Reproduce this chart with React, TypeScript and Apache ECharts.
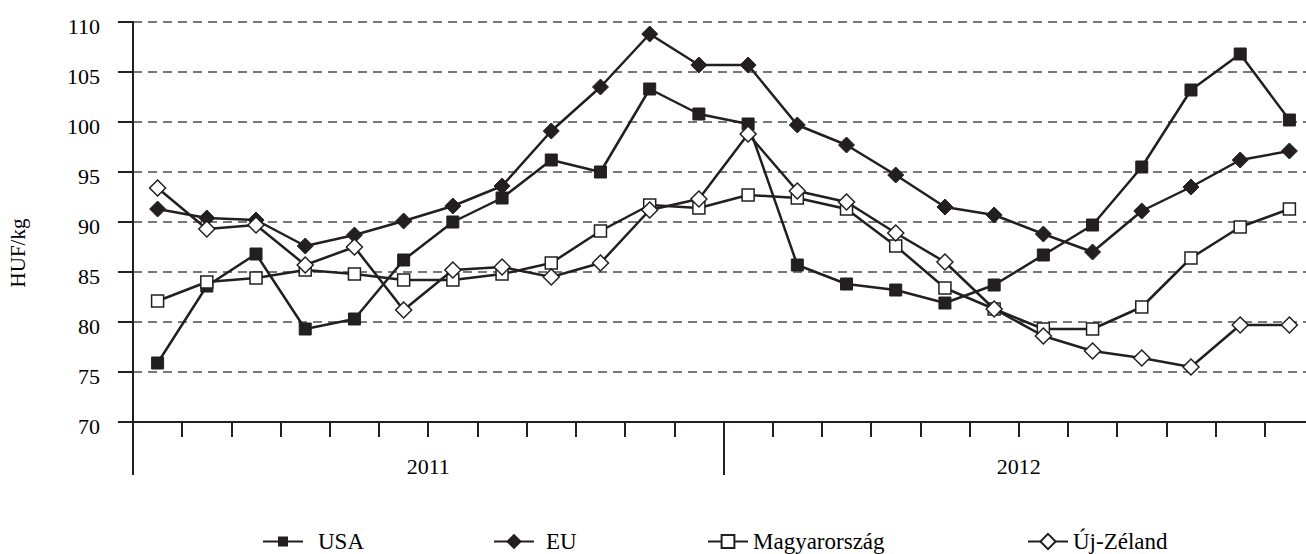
import React, { useEffect, useRef } from "react";
import * as echarts from "echarts";

const months = [
  "2011-01", "2011-02", "2011-03", "2011-04", "2011-05", "2011-06",
  "2011-07", "2011-08", "2011-09", "2011-10", "2011-11", "2011-12",
  "2012-01", "2012-02", "2012-03", "2012-04", "2012-05", "2012-06",
  "2012-07", "2012-08", "2012-09", "2012-10", "2012-11", "2012-12",
];
const years = ["2011", "2012"];

const usa = [75.9, 83.6, 86.8, 79.3, 80.3, 86.2, 90.0, 92.4, 96.2, 95.0, 103.3, 100.8,
  99.8, 85.7, 83.8, 83.2, 81.9, 83.7, 86.7, 89.7, 95.5, 103.2, 106.8, 100.2];
const eu = [91.3, 90.4, 90.2, 87.6, 88.7, 90.1, 91.6, 93.6, 99.1, 103.5, 108.8, 105.7,
  105.7, 99.7, 97.7, 94.7, 91.5, 90.7, 88.8, 87.0, 91.1, 93.5, 96.2, 97.1];
const hu = [82.1, 84.0, 84.4, 85.2, 84.8, 84.2, 84.2, 84.8, 85.9, 89.1, 91.7, 91.4,
  92.7, 92.4, 91.3, 87.6, 83.4, 81.3, 79.3, 79.3, 81.5, 86.4, 89.5, 91.3];
const nz = [93.4, 89.3, 89.7, 85.7, 87.5, 81.2, 85.2, 85.5, 84.5, 85.9, 91.2, 92.3,
  98.8, 93.1, 92.0, 88.9, 86.0, 81.3, 78.6, 77.1, 76.4, 75.5, 79.7, 79.7];

const yTicks = { min: 70, max: 110, interval: 5 };

const INK = "#231f20";
const FONT = "'Liberation Serif', 'Times New Roman', serif";

export default function App() {
  const ref = useRef<HTMLDivElement>(null);
  useEffect(() => {
    document.body.style.margin = "0";
    document.body.style.overflow = "hidden";
    const chart = echarts.init(ref.current!, null, { renderer: "svg" });
    const lineStyle = { color: INK, width: 2.5 };
    const mkLegend = (name: string, left: number, h: number, pad: number) => ({
      data: [name],
      left,
      top: 530,
      itemWidth: 40,
      itemHeight: h,
      padding: 0,
      textStyle: { fontFamily: FONT, fontSize: 23, color: "#000", padding: [0, 0, 0, pad] },
    });
    chart.setOption({
      animation: false,
      backgroundColor: "#fff",
      textStyle: { fontFamily: FONT },
      grid: { left: 133, top: 22, width: 1181, height: 400, containLabel: false },
      legend: [
        mkLegend("USA", 262, 10, 10),
        mkLegend("EU", 493, 16, 7),
        mkLegend("Magyarország", 707, 16, 0),
        mkLegend("Új-Zéland", 1027, 19, 0),
      ],
      graphic: [
        {
          type: "text",
          x: 18,
          y: 253,
          rotation: Math.PI / 2,
          style: {
            text: "HUF/kg",
            fontFamily: FONT,
            fontSize: 21,
            fill: "#000",
            textAlign: "center",
            textVerticalAlign: "middle",
          },
        },
      ],
      xAxis: [
        {
          type: "category",
          data: months,
          boundaryGap: true,
          position: "bottom",
          axisLine: { show: true, lineStyle: { color: INK, width: 2 } },
          axisTick: { show: true, length: 15, interval: 0, lineStyle: { color: INK, width: 2 } },
          axisLabel: { show: false },
          splitLine: { show: false },
        },
        {
          type: "category",
          data: years,
          boundaryGap: true,
          position: "bottom",
          axisLine: { show: false },
          axisTick: { show: true, length: 53, interval: 0, lineStyle: { color: INK, width: 2 } },
          axisLabel: { show: true, margin: 33, fontFamily: FONT, fontSize: 22, color: "#000" },
          splitLine: { show: false },
        },
      ],
      yAxis: {
        type: "value",
        min: yTicks.min,
        max: yTicks.max,
        interval: yTicks.interval,
        axisLine: { show: true, lineStyle: { color: INK, width: 2 } },
        axisTick: { show: true, length: 15, lineStyle: { color: INK, width: 2 } },
        axisLabel: {
          margin: 33,
          formatter: "{v|{value}}",
          rich: { v: { fontFamily: FONT, fontSize: 22, color: "#000", padding: [9, 0, 0, 0] } },
        },
        splitLine: { show: true, lineStyle: { color: "#4d4d4d", width: 1.6, type: [9, 6] } },
      },
      series: [
        {
          name: "USA", type: "line", data: usa, symbol: "rect", symbolSize: 12,
          lineStyle, itemStyle: { color: INK, borderColor: INK, borderWidth: 1 }, z: 3,
        },
        {
          name: "EU", type: "line", data: eu, symbol: "diamond", symbolSize: 16,
          lineStyle, itemStyle: { color: INK, borderColor: INK, borderWidth: 1 }, z: 4,
        },
        {
          name: "Magyarország", type: "line", data: hu, symbol: "rect", symbolSize: 12,
          lineStyle, itemStyle: { color: "#fff", borderColor: INK, borderWidth: 1.5 }, z: 5,
        },
        {
          name: "Új-Zéland", type: "line", data: nz, symbol: "diamond", symbolSize: 16,
          lineStyle, itemStyle: { color: "#fff", borderColor: INK, borderWidth: 1.5 }, z: 6,
        },
      ],
    });
    return () => chart.dispose();
  }, []);
  return (
    <div style={{ width: 1306, height: 554, overflow: "hidden", position: "relative" }}>
      <div ref={ref} style={{ width: 1320, height: 554 }} />
    </div>
  );
}
